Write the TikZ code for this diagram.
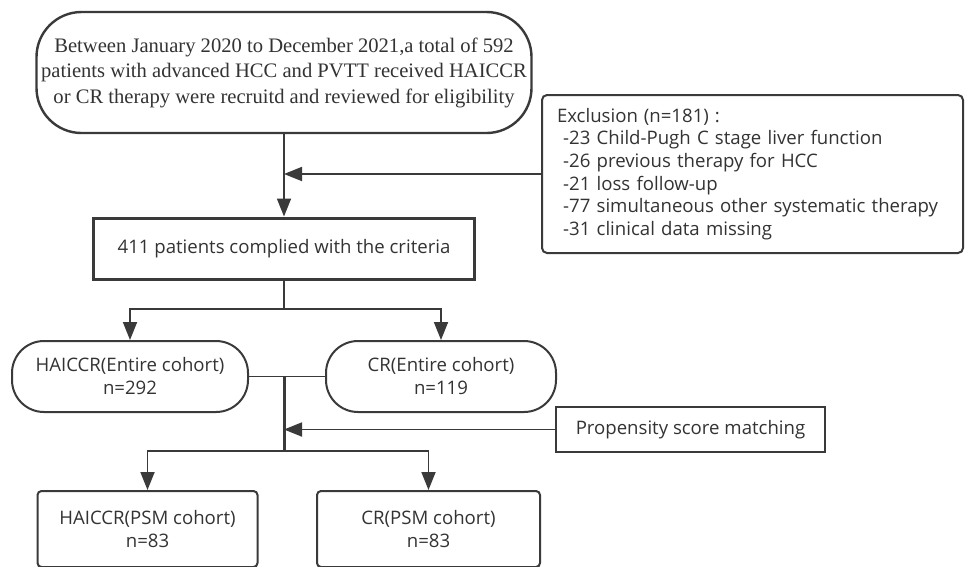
\documentclass[tikz,border=0pt]{standalone}
\usepackage{fontspec}
\setmainfont{Open Sans}
\newfontfamily\serifx{Liberation Serif}
\usetikzlibrary{arrows.meta}
\definecolor{ln}{HTML}{3A3A3A}
\definecolor{tx}{HTML}{333333}
\begin{document}
\begin{tikzpicture}[x=1pt,y=-1pt,
  every node/.style={text=tx, inner sep=0pt, anchor=center},
  box/.style={draw=ln, line width=2pt, align=center, font=\fontsize{18.6}{23}\selectfont},
  arr/.style={draw=ln, line width=1.8pt, -{Triangle[width=14pt,length=18pt]}},
  ln/.style={draw=ln, line width=1.8pt}]
\useasboundingbox (0,0) rectangle (965,566);
\fill[white] (0,0) rectangle (965,566);

\node[box, line width=2.4pt, rounded corners=45pt, minimum width=495pt, minimum height=121pt,
  font=\serifx\fontsize{20.6}{25.5}\selectfont] (top) at (284,72.5)
  {Between January 2020 to December 2021,a total of 592\\patients with advanced HCC and PVTT received HAICCR\\or CR therapy were recruitd and reviewed for eligibility};

\node[box, rounded corners=5pt, minimum width=421pt, minimum height=158pt,
  text width=391pt, align=left, font=\fontsize{18.6}{22.6}\selectfont] (excl) at (752.5,174)
  {Exclusion\hspace{6pt}(n=181)\hspace{6pt}:\\
   \ -23 Child-Pugh C stage liver function\\
   \ -26 previous therapy for HCC\\
   \ -21 loss follow-up\\
   \ -77 simultaneous other systematic therapy\\
   \ -31 clinical data missing};

\node[box, line width=3pt, minimum width=381pt, minimum height=61pt] (crit) at (284,248.5)
  {411 patients complied with the criteria};

\node[box, rounded corners=32pt, minimum width=236pt, minimum height=71pt] (hE) at (130,376.5)
  {HAICCR(Entire cohort)\\n=292};
\node[box, rounded corners=32pt, minimum width=230pt, minimum height=71pt] (cE) at (441,376.5)
  {CR(Entire cohort)\\n=119};

\node[box, minimum width=269pt, minimum height=45pt] (prop) at (690.5,429.5)
  {Propensity score matching};

\node[box, rounded corners=4pt, minimum width=220pt, minimum height=76pt] (hP) at (147.5,529)
  {HAICCR(PSM cohort)\\n=83};
\node[box, rounded corners=4pt, minimum width=223pt, minimum height=76pt] (cP) at (428.5,529)
  {CR(PSM cohort)\\n=83};

\coordinate (j1) at (284,309);
\coordinate (j2) at (284,451);

\draw[arr] (top.south) -- (crit.north);
\draw[arr] (excl.west) -- (excl.west -| top.south);
\draw[ln] (crit.south) -- (j1);
\draw[arr] (j1) -| (hE.north);
\draw[arr] (j1) -| (cE.north);
\draw[ln] (hE.east) -- (cE.west);
\draw[ln, line width=3pt] (hE.east -| j2) -- (j2);
\draw[arr] (prop.west) -- (prop.west -| j2);
\draw[arr] (j2) -| (hP.north);
\draw[arr] (j2) -| (cP.north);
\end{tikzpicture}
\end{document}
